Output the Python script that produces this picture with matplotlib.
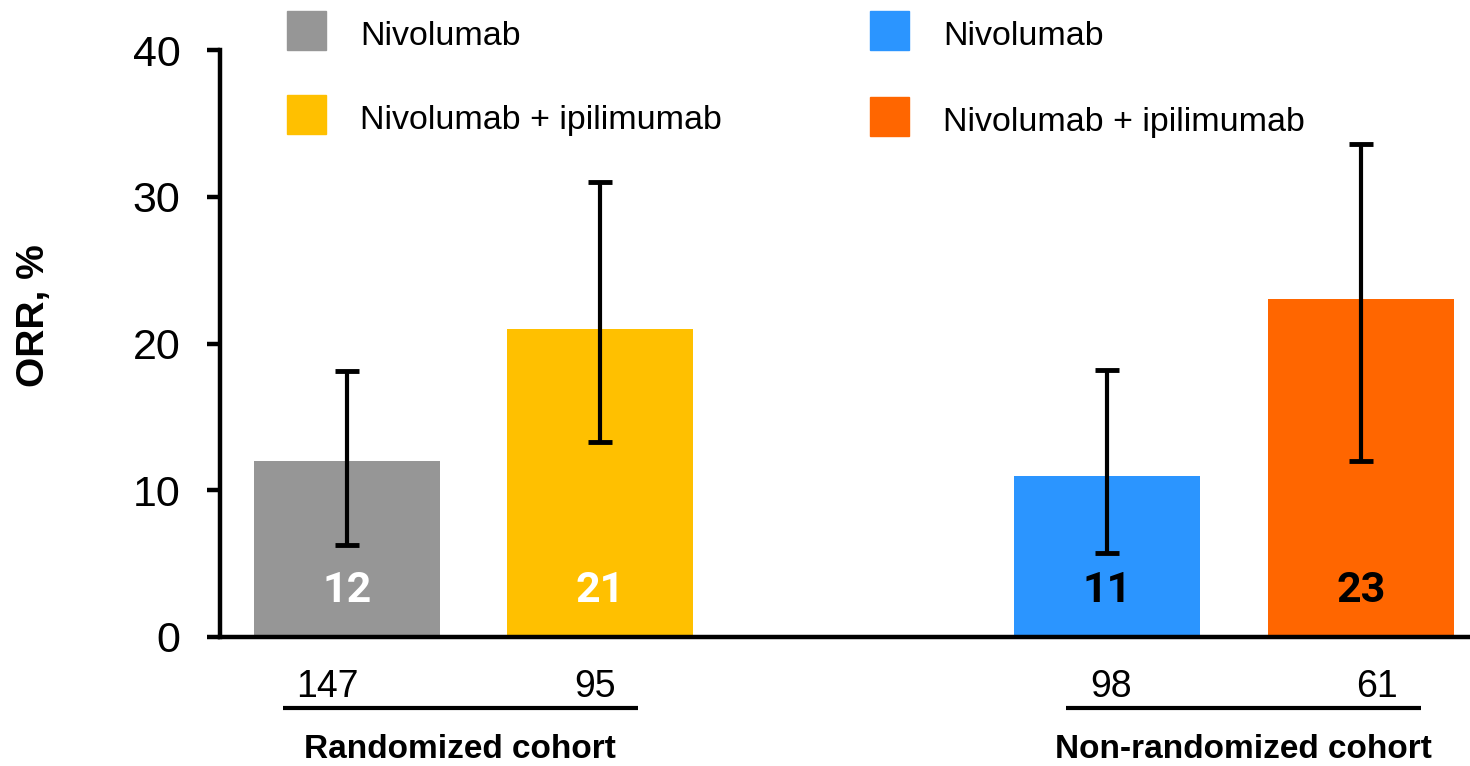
import matplotlib
matplotlib.use('Agg')
import matplotlib.pyplot as plt
import matplotlib.transforms as mtransforms
from matplotlib.patches import Rectangle

plt.rcParams['font.family'] = ['Liberation Sans', 'DejaVu Sans']

# ORR (%) with 95% CI, by cohort and arm
arms = ['Nivolumab', 'Nivolumab + ipilimumab', 'Nivolumab', 'Nivolumab + ipilimumab']
orr = [12, 21, 11, 23]
ci_low = [6.3, 13.3, 5.7, 12.0]
ci_high = [18.1, 31.0, 18.2, 33.6]
n_pts = [147, 95, 98, 61]
cohorts = ['Randomized cohort', 'Non-randomized cohort']
colors = ['#969696', '#FFC000', '#2B95FF', '#FF6600']
value_colors = ['white', 'white', 'black', 'black']

xpos = [0, 1, 3, 4]
n_nudge = [-0.075, -0.02, 0.015, 0.065]
group_mid = [0.448, 3.535]

fig = plt.figure(figsize=(14.7, 7.66), dpi=100)
ax = fig.add_axes([220 / 1470, 1 - 637 / 766, 1250 / 1470, 587 / 766])

yerr = [[v - lo for v, lo in zip(orr, ci_low)], [hi - v for v, hi in zip(orr, ci_high)]]
ax.bar(xpos, orr, width=0.734, color=colors, zorder=1)
ax.errorbar(xpos, orr, yerr=yerr, fmt='none', ecolor='black', elinewidth=3,
            capsize=8.5, capthick=3.5, zorder=3)

# bold values inside the bars (Roboto: its "1" has no foot)
for x, v, c in zip(xpos, orr, value_colors):
    ax.text(x, 2.4, str(v), ha='center', va='baseline', fontsize=31,
            fontweight='bold', color=c, family=['Roboto', 'DejaVu Sans'], zorder=4)

ax.set_xlim(-0.5, 4.43)
ax.set_ylim(0, 40)
ax.set_yticks([0, 10, 20, 30, 40])
ax.set_xticks([])
for s in ['top', 'right']:
    ax.spines[s].set_visible(False)
ax.spines['left'].set_linewidth(3.2)
ax.spines['bottom'].set_linewidth(3.2)
ax.tick_params(axis='y', length=9.4, width=3.2, pad=19, labelsize=31)

# patient numbers, underlines and cohort names below the axis
trans = mtransforms.blended_transform_factory(ax.transData, ax.transAxes)
for x, n, dx in zip(xpos, n_pts, n_nudge):
    ax.text(x + dx, -0.102, str(n), transform=trans, ha='center', va='baseline',
            fontsize=27, clip_on=False)
for mid, name in zip(group_mid, cohorts):
    ax.plot([mid - 0.7, mid + 0.7], [-0.121, -0.121], transform=trans,
            color='black', lw=3, solid_capstyle='butt', clip_on=False)
    ax.text(mid, -0.206, name, transform=trans, ha='center', va='baseline',
            fontsize=24, fontweight='bold', clip_on=False)

fig.text(34 / 1470, 1 - 316 / 766, 'ORR, %', rotation=90, ha='center', va='center',
         fontsize=28, fontweight='bold')

# legend: one column per cohort
leg_x = [287, 287, 870, 870]
leg_y = [11, 95, 11, 97]
for lx, ly, lab, col in zip(leg_x, leg_y, arms, colors):
    fig.add_artist(Rectangle((lx / 1470, 1 - (ly + 39) / 766), 39 / 1470, 39 / 766,
                             transform=fig.transFigure, color=col))
    fig.text((lx + 73) / 1470, 1 - (ly + 34) / 766, lab, ha='left', va='baseline',
             fontsize=24.5)

fig.savefig('out.png', dpi=100)
